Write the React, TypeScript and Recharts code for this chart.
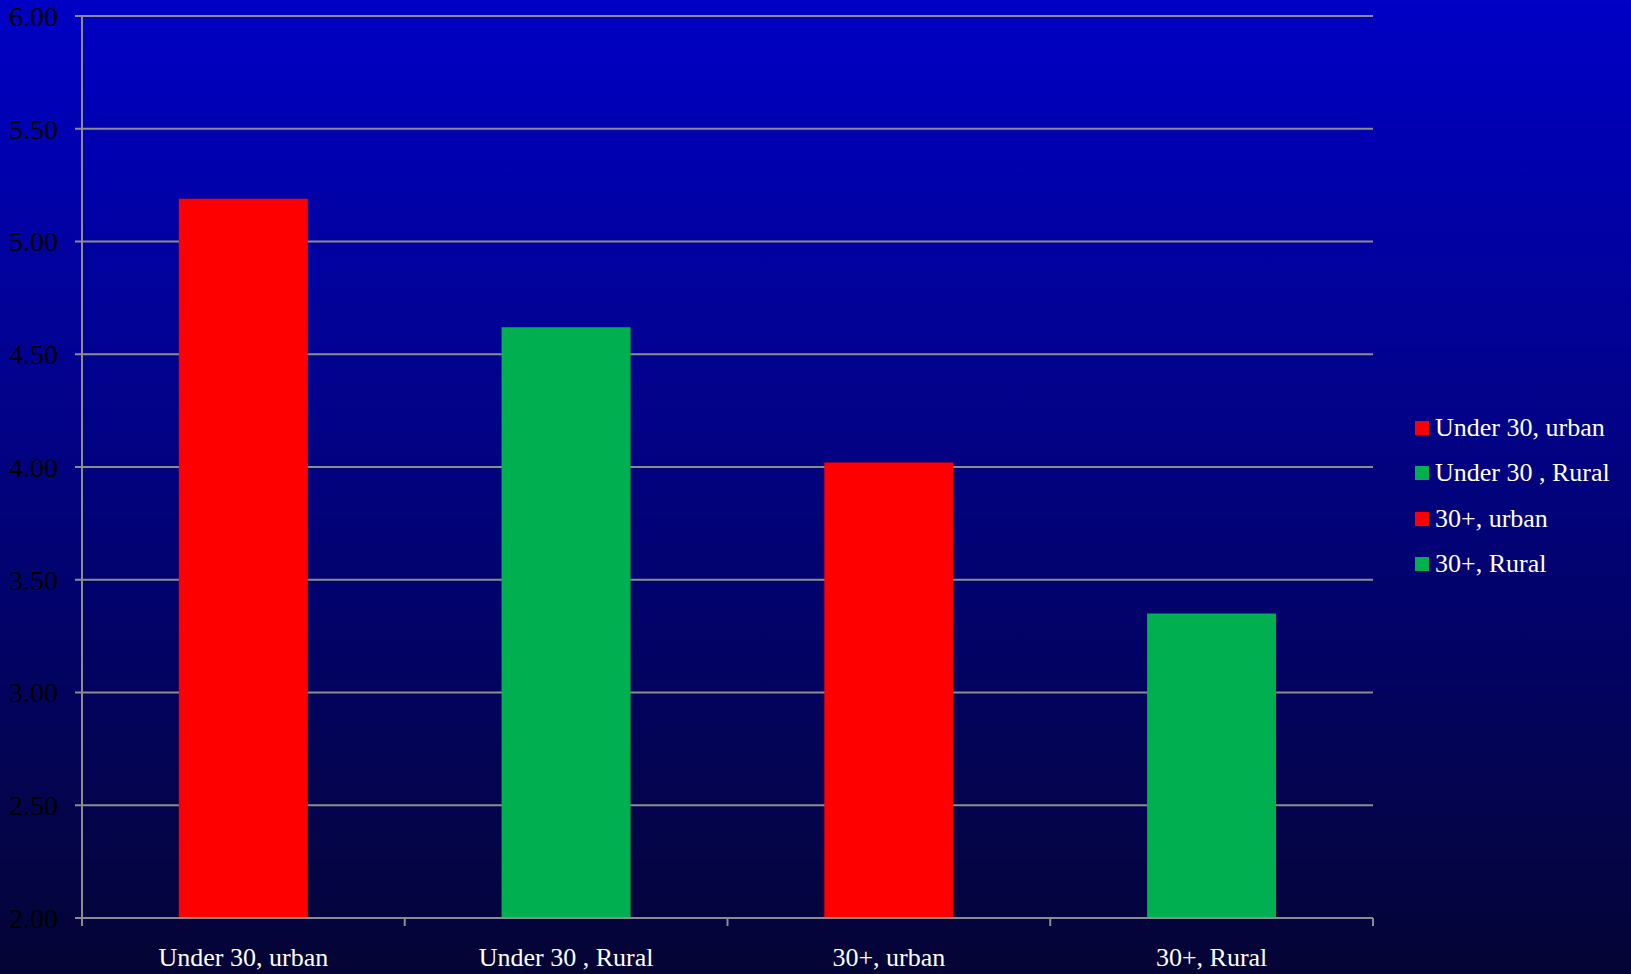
import React from 'react';
import {
  BarChart,
  Bar,
  Cell,
  XAxis,
  YAxis,
  CartesianGrid,
  Legend,
} from 'recharts';

const CATEGORIES = ['Under 30, urban', 'Under 30 , Rural', '30+, urban', '30+, Rural'];
const VALUES = [5.19, 4.62, 4.02, 3.35];
const BAR_COLORS = ['#FF0000', '#00B050', '#FF0000', '#00B050'];
const Y_TICKS = [2, 2.5, 3, 3.5, 4, 4.5, 5, 5.5, 6];

const data = CATEGORIES.map((name, i) => ({ name, value: VALUES[i], color: BAR_COLORS[i] }));

const FONT = '"Liberation Serif", "Times New Roman", serif';
const GRID = '#8c8c8c';
const X_LABEL_GAP = 30;

// category label plus the small tick marks that sit on the category boundaries
const CategoryTick = (props: any) => {
  const { x, y, payload, index, visibleTicksCount } = props;
  const half = payload.offset || 0;
  const axisY = y - X_LABEL_GAP;
  const isLast = index === (visibleTicksCount ?? CATEGORIES.length) - 1;
  return (
    <g>
      <line x1={x - half} x2={x - half} y1={axisY} y2={axisY + 8} stroke={GRID} strokeWidth={2} />
      {isLast && (
        <line x1={x + half} x2={x + half} y1={axisY} y2={axisY + 8} stroke={GRID} strokeWidth={2} />
      )}
      <text x={x} y={y} dy="0.71em" textAnchor="middle" fill="#ffffff" fontSize={26} fontFamily={FONT}>
        {payload.value}
      </text>
    </g>
  );
};

const renderLegend = () => (
  <div style={{ fontFamily: FONT, fontSize: 26, color: '#fff' }}>
    {data.map((d) => (
      <div key={d.name} style={{ display: 'flex', alignItems: 'center', height: 45.5, whiteSpace: 'nowrap' }}>
        <span style={{ width: 14, height: 14, background: d.color, marginRight: 6, display: 'inline-block' }} />
        <span>{d.name}</span>
      </div>
    ))}
  </div>
);

export default function App() {
  return (
    <div
      style={{
        position: 'fixed',
        left: 0,
        top: 0,
        width: 1631,
        height: 974,
        background: 'linear-gradient(to bottom, #0000C6, #040434)',
        fontFamily: FONT,
      }}
    >
      <BarChart
        width={1631}
        height={974}
        data={data}
        margin={{ top: 16, right: 258, bottom: 0, left: 0 }}
        barCategoryGap="30%"
      >
        <CartesianGrid vertical={false} stroke={GRID} strokeWidth={2} />
        <XAxis
          dataKey="name"
          height={56}
          axisLine={{ stroke: GRID, strokeWidth: 2 }}
          tickLine={false}
          tickSize={0}
          tickMargin={X_LABEL_GAP}
          interval={0}
          tick={<CategoryTick />}
        />
        <YAxis
          domain={[2, 6]}
          ticks={Y_TICKS}
          width={82}
          tickFormatter={(v: number) => v.toFixed(2)}
          tickSize={7}
          tickMargin={17}
          tickLine={{ stroke: GRID, strokeWidth: 2 }}
          axisLine={{ stroke: GRID, strokeWidth: 2 }}
          tick={{ fill: '#000000', fontSize: 28, fontFamily: FONT }}
          allowDataOverflow
        />
        <Legend
          layout="vertical"
          align="center"
          verticalAlign="middle"
          content={renderLegend}
          wrapperStyle={{ left: 1415, top: 405, width: 216 }}
        />
        <Bar dataKey="value" isAnimationActive={false}>
          {data.map((d, i) => (
            <Cell key={`cell-${i}`} fill={d.color} />
          ))}
        </Bar>
      </BarChart>
    </div>
  );
}
